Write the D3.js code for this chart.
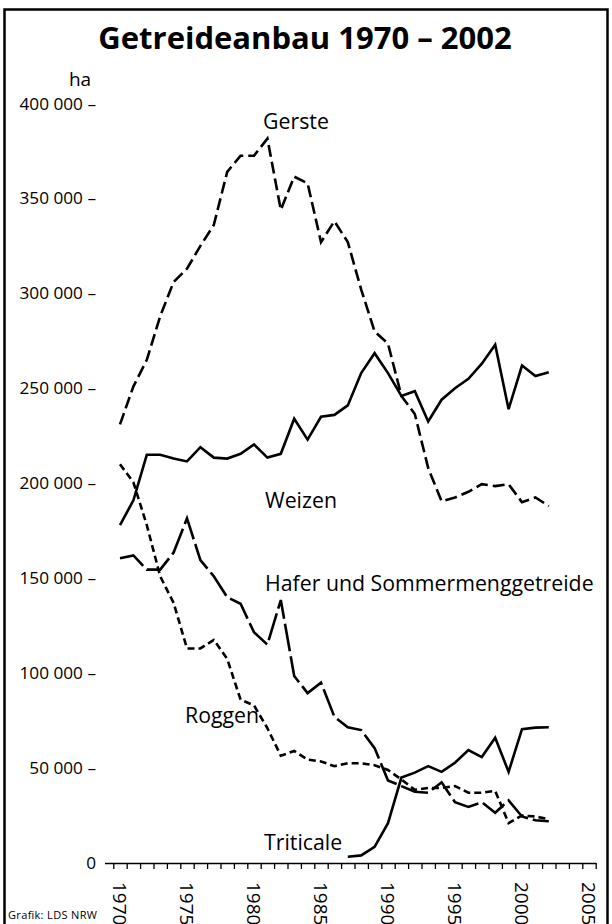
<!DOCTYPE html>
<html>
<head>
<meta charset="utf-8">
<script src="https://cdn.jsdelivr.net/npm/d3@7"></script>
<style>
  body { margin: 0; background: #fff; }
  svg { display: block; font-family: "Open Sans", "Noto Sans", sans-serif; }
</style>
</head>
<body>
<svg id="chart" width="612" height="924"></svg>
<script>
  // Anbauflaeche in ha, 1970 - 2002 (Triticale erst ab 1987)
  var years = d3.range(1970, 2003);
  var weizen = [178000, 191000, 215000, 215000, 213000, 211500, 219000, 213500, 213000, 215500,
    220500, 213500, 215500, 234000, 223000, 235000, 236000, 241000, 258000, 268500,
    258000, 246000, 248500, 232500, 244000, 250000, 255000, 263000, 273000, 239000,
    262000, 256500, 258500];
  var gerste = [231000, 251000, 265000, 288000, 306000, 313000, 325000, 336000, 364000, 372500,
    372500, 381500, 344000, 361500, 358000, 327000, 338000, 327000, 302000, 280000,
    273500, 246000, 236500, 208000, 190500, 192500, 195500, 199500, 198500, 199500,
    190000, 192500, 188000];
  var hafer = [160500, 162000, 154500, 154500, 163500, 181500, 159500, 151000, 140000, 136500,
    121500, 115000, 138500, 98500, 89500, 95000, 77000, 71500, 70000, 60500,
    43500, 40500, 37500, 37000, 42500, 32000, 29500, 32000, 26500, 33000,
    24500, 22500, 22000];
  var roggen = [210000, 200500, 178000, 151000, 137000, 113000, 113000, 117500, 107500, 86000,
    83000, 71000, 56500, 59000, 54500, 53500, 51000, 52500, 52500, 51500,
    49000, 44000, 38500, 39500, 39500, 40500, 37000, 37000, 38000, 21000,
    25000, 24500, 23000];
  var triticaleYears = d3.range(1987, 2003);
  var triticale = [3300, 4000, 8500, 21000, 45000, 47600, 51000, 48000, 52800, 59500,
    55800, 66000, 48000, 70500, 71300, 71500];

  var yTicks = [0, 50000, 100000, 150000, 200000, 250000, 300000, 350000, 400000];
  var xLabelYears = [1970, 1975, 1980, 1985, 1990, 1995, 2000, 2005];

  var svg = d3.select("#chart");

  // Rahmen
  svg.append("rect")
    .attr("x", 4.5).attr("y", 9.5)
    .attr("width", 603).attr("height", 930)
    .attr("fill", "none").attr("stroke", "#000").attr("stroke-width", 2.5);

  // Titel
  svg.append("text")
    .attr("x", 305).attr("y", 49)
    .attr("text-anchor", "middle")
    .attr("font-size", 31).attr("font-weight", "bold")
    .text("Getreideanbau 1970 – 2002");

  // Jahre als Intervalle: Ticks an den Grenzen, Werte in der Mitte
  var x = d3.scaleLinear().domain([1970, 2006]).range([113.3, 595.7]);
  var y = d3.scaleLinear().domain([0, 400000]).range([863, 103.5]);

  var locale = d3.formatLocale({decimal: ",", thousands: " ", grouping: [3], currency: ["", ""]});
  var fmt = locale.format(",");

  // y-Achse (nur Beschriftung mit Strich)
  var yAxis = svg.append("g")
    .attr("transform", "translate(96,0)")
    .call(d3.axisLeft(y).tickValues(yTicks).tickSize(0).tickPadding(0)
      .tickFormat(function(d) {return d === 0 ? "0" : fmt(d) + " –";}));
  yAxis.select(".domain").remove();
  yAxis.selectAll("text")
    .attr("font-size", 17.2).attr("fill", "#000")
    .attr("font-family", "Open Sans, Noto Sans, sans-serif");

  svg.append("text")
    .attr("x", 80).attr("y", 86)
    .attr("text-anchor", "middle")
    .attr("font-size", 19)
    .text("ha");

  // x-Achse
  var xAxis = svg.append("g")
    .attr("transform", "translate(0," + y(0) + ")")
    .call(d3.axisBottom(x).tickValues(d3.range(1970, 2007)).tickSize(6).tickSizeOuter(0)
      .tickFormat(""));
  xAxis.select(".domain")
    .attr("d", "M105,0.5H" + (x(2006) + 0.5))
    .attr("stroke-width", 1.5);
  xAxis.selectAll(".tick line").attr("stroke-width", 1.3);

  svg.append("g").selectAll("text")
    .data(xLabelYears)
    .enter().append("text")
      .attr("transform", function(d) {return "translate(" + x(d + 0.5) + "," + (y(0) + 19) + ") rotate(90)";})
      .attr("dy", "0.35em")
      .attr("font-size", 19)
      .text(function(d) {return d;});

  // Linien
  var line = d3.line()
    .x(function(d) {return x(d[0] + 0.5);})
    .y(function(d) {return y(d[1]);});

  var series = [
    {name: "Gerste", years: years, values: gerste, dash: "12,5"},
    {name: "Weizen", years: years, values: weizen, dash: null},
    {name: "Hafer", years: years, values: hafer, dash: "28,5"},
    {name: "Roggen", years: years, values: roggen, dash: "7,4"},
    {name: "Triticale", years: triticaleYears, values: triticale, dash: null}
  ];

  svg.append("g").selectAll("path")
    .data(series)
    .enter().append("path")
      .attr("d", function(s) {return line(s.years.map(function(yr, i) {return [yr, s.values[i]];}));})
      .attr("fill", "none")
      .attr("stroke", "#000")
      .attr("stroke-width", 2.6)
      .attr("stroke-linejoin", "miter")
      .attr("stroke-dasharray", function(s) {return s.dash;});

  // Beschriftungen der Linien
  var labels = [
    {text: "Gerste", x: 263, y: 129},
    {text: "Weizen", x: 265, y: 508},
    {text: "Hafer und Sommermenggetreide", x: 265, y: 591},
    {text: "Roggen", x: 185, y: 723},
    {text: "Triticale", x: 264, y: 850}
  ];
  svg.append("g").selectAll("text")
    .data(labels)
    .enter().append("text")
      .attr("x", function(d) {return d.x;})
      .attr("y", function(d) {return d.y;})
      .attr("font-size", 21.3)
      .text(function(d) {return d.text;});

  svg.append("text")
    .attr("x", 8).attr("y", 919)
    .attr("font-size", 11)
    .attr("textLength", 89)
    .text("Grafik: LDS NRW");
</script>
</body>
</html>
